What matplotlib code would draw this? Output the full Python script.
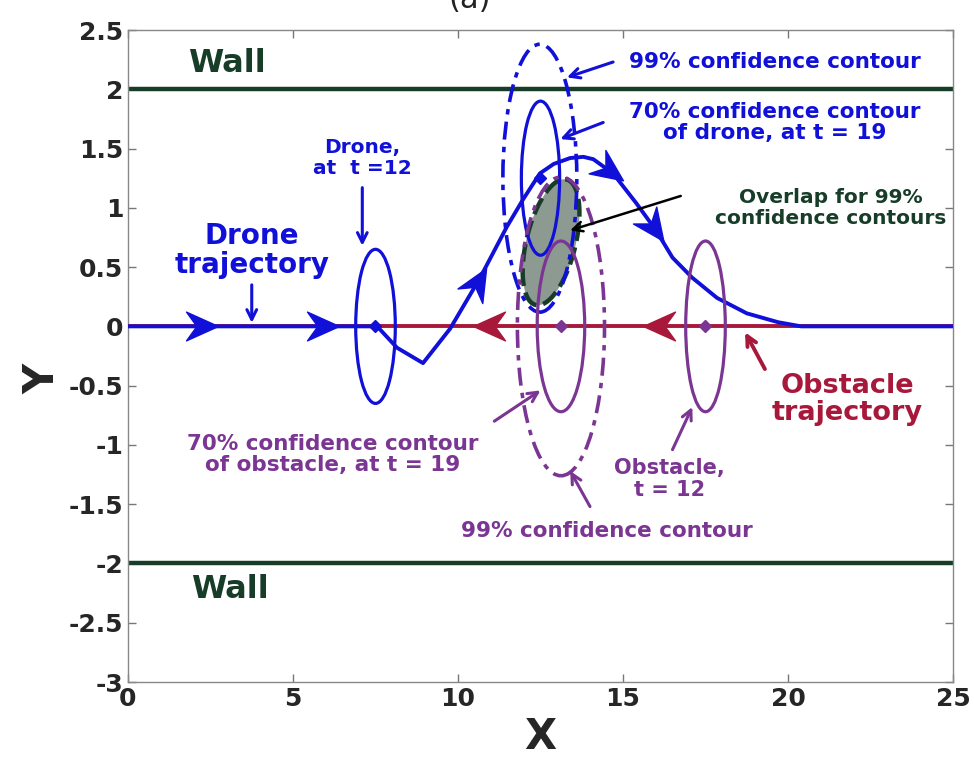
import numpy as np
import matplotlib.pyplot as plt
from matplotlib.patches import Ellipse, Polygon
from matplotlib.markers import MarkerStyle
from matplotlib.path import Path
from matplotlib.transforms import Affine2D

# drone trajectory
drone_x = [0, 7.55, 8.15, 8.94, 9.76, 10.67, 11.48, 11.97, 12.48, 12.9, 13.4, 13.8, 14.1,
           14.7, 15.4, 16.0, 16.5, 17.1, 17.85, 18.75, 19.7, 20.4, 25]
drone_y = [0, 0, -0.18, -0.31, -0.02, 0.41, 0.84, 1.07, 1.29, 1.37, 1.42, 1.43, 1.41,
           1.29, 1.04, 0.81, 0.58, 0.41, 0.24, 0.11, 0.035, 0, 0]
drone_arrow_x = [2.25, 5.9, 10.6, 14.6, 15.95]

obst_x = [0, 25]
obst_y = [0, 0]
obst_arrow_x = [10.95, 16.1]

wall_y = [2, -2]

# ellipses: (cx, cy, semi-x, semi-y)
drone_t12 = (7.5, 0.0, 0.6, 0.65)
drone_t19_70 = (12.5, 1.25, 0.58, 0.65)
drone_t19_99 = (12.48, 1.25, 1.12, 1.13)
obst_t19_70 = (13.12, 0.0, 0.72, 0.72)
obst_t19_99 = (13.12, 0.0, 1.32, 1.26)
obst_t12 = (17.5, 0.0, 0.6, 0.72)

# overlap region: centre, half axis vectors
overlap_c = (12.82, 0.71)
overlap_u = (0.455, 0.53)
overlap_v = (0.73, -0.04)

BLUE = '#1010d8'
RED = '#a8183a'
PURPLE = '#7b3592'
GREEN = '#173d29'

fig = plt.figure(figsize=(9.74, 7.57), dpi=100)
ax = fig.add_axes([128/974, 1-682/757, 825/974, 652/757])
ax.set_xlim(0, 25)
ax.set_ylim(-3, 2.5)

for wy in wall_y:
    ax.plot([0, 25], [wy, wy], color=GREEN, lw=3.2, zorder=2)

ax.plot(obst_x, obst_y, color=RED, lw=2.8, zorder=3)
ax.plot(drone_x, drone_y, color=BLUE, lw=2.8, zorder=4)

t = np.linspace(0, 2*np.pi, 200)
ox = overlap_c[0] + overlap_u[0]*np.cos(t) + overlap_v[0]*np.sin(t)
oy = overlap_c[1] + overlap_u[1]*np.cos(t) + overlap_v[1]*np.sin(t)
ax.add_patch(Polygon(np.column_stack([ox, oy]), closed=True, facecolor='#8c9a92',
                     edgecolor=GREEN, lw=3.2, ls=(0, (4, 1.5)), zorder=2.5))


def ell(p, color, ls='-', lw=2.3):
    ax.add_patch(Ellipse((p[0], p[1]), 2*p[2], 2*p[3], fill=False, edgecolor=color,
                         lw=lw, ls=ls, zorder=5))


ell(drone_t12, BLUE)
ell(drone_t19_70, BLUE)
ell(drone_t19_99, BLUE, ls=(0, (5, 2, 1.5, 2)), lw=2.6)
ell(obst_t19_70, PURPLE)
ell(obst_t19_99, PURPLE, ls=(0, (5, 2, 1.5, 2)), lw=2.6)
ell(obst_t12, PURPLE)

for p, c in [(drone_t12, BLUE), (drone_t19_70, BLUE), (obst_t19_70, PURPLE), (obst_t12, PURPLE)]:
    ax.plot(p[0], p[1], marker='D', ms=6, color=c, zorder=6)

head = Path([(1, 0), (-1, 0.9), (-0.35, 0), (-1, -0.9), (1, 0)],
            [Path.MOVETO, Path.LINETO, Path.LINETO, Path.LINETO, Path.CLOSEPOLY])


def arrow_head(x, y, dx, dy, color):
    p0 = ax.transData.transform((x, y))
    p1 = ax.transData.transform((x + dx, y + dy))
    ang = np.degrees(np.arctan2(p1[1] - p0[1], p1[0] - p0[0]))
    m = MarkerStyle(head, transform=Affine2D().rotate_deg(ang))
    ax.plot(x, y, marker=m, ms=23, color=color, mec=color, zorder=7)


for x in drone_arrow_x:
    y = np.interp(x, drone_x, drone_y)
    y2 = np.interp(x + 0.05, drone_x, drone_y)
    arrow_head(x, y, 0.05, y2 - y, BLUE)

for x in obst_arrow_x:
    arrow_head(x, 0, -0.05, 0, RED)

bold = dict(fontweight='bold', ha='center', va='center')
ax.text(3.0, 2.22, 'Wall', color=GREEN, fontsize=23, **bold)
ax.text(3.1, -2.22, 'Wall', color=GREEN, fontsize=23, **bold)
ax.text(3.75, 0.64, 'Drone\ntrajectory', color=BLUE, fontsize=20, linespacing=1.05, **bold)
ax.text(7.1, 1.42, 'Drone,\nat  t =12', color=BLUE, fontsize=14.5, linespacing=1.1, **bold)
ax.text(19.6, 2.23, '99% confidence contour', color=BLUE, fontsize=15.5, **bold)
ax.text(19.6, 1.72, '70% confidence contour\nof drone, at t = 19', color=BLUE, fontsize=15.5,
        linespacing=1.1, **bold)
ax.text(21.3, 1.0, 'Overlap for 99%\nconfidence contours', color=GREEN, fontsize=14.5,
        linespacing=1.1, **bold)
ax.text(21.8, -0.62, 'Obstacle\ntrajectory', color=RED, fontsize=19.5, linespacing=1.05, **bold)
ax.text(6.2, -1.08, '70% confidence contour\nof obstacle, at t = 19', color=PURPLE, fontsize=15.5,
        linespacing=1.1, **bold)
ax.text(16.4, -1.29, 'Obstacle,\nt = 12', color=PURPLE, fontsize=15, linespacing=1.1, **bold)
ax.text(14.5, -1.73, '99% confidence contour', color=PURPLE, fontsize=15.5, **bold)


def pointer(xy, xytext, color, lw=2.2):
    ax.annotate('', xy=xy, xytext=xytext, zorder=8,
                arrowprops=dict(arrowstyle='->,head_length=0.7,head_width=0.35',
                                color=color, lw=lw, shrinkA=0, shrinkB=0))


pointer((3.75, 0.03), (3.75, 0.35), BLUE)
pointer((7.1, 0.68), (7.1, 1.17), BLUE)
pointer((13.3, 2.1), (14.7, 2.23), BLUE)
pointer((13.1, 1.58), (14.4, 1.72), BLUE)
pointer((13.4, 0.81), (16.75, 1.1), 'black', lw=1.8)
pointer((18.7, -0.05), (19.3, -0.36), RED, lw=2.8)
pointer((12.5, -0.54), (11.1, -0.8), PURPLE)
pointer((17.1, -0.68), (16.5, -1.04), PURPLE)
pointer((13.4, -1.22), (14.0, -1.52), PURPLE)

ax.set_xticks([0, 5, 10, 15, 20, 25])
ax.set_yticks([2.5, 2, 1.5, 1, 0.5, 0, -0.5, -1, -1.5, -2, -2.5, -3])
ax.set_yticklabels(['2.5', '2', '1.5', '1', '0.5', '0', '-0.5', '-1', '-1.5', '-2', '-2.5', '-3'])
ax.tick_params(direction='in', top=True, right=True, length=6, width=1, colors='#777777',
               labelcolor='#262626', labelsize=18)
for lab in ax.get_xticklabels() + ax.get_yticklabels():
    lab.set_fontweight('bold')
for s in ax.spines.values():
    s.set_color('#888888')
    s.set_linewidth(1)

ax.set_xlabel('X', fontsize=30, fontweight='bold', color='#262626')
ax.xaxis.set_label_coords(0.5, -0.052)
ax.set_ylabel('Y', fontsize=30, fontweight='bold', color='#262626')
ax.yaxis.set_label_coords(-0.078, 0.465)

fig.text(470/974, 1.0, '(a)', ha='center', va='center', fontsize=22, color='#222222')

fig.savefig('out.png', dpi=100)
